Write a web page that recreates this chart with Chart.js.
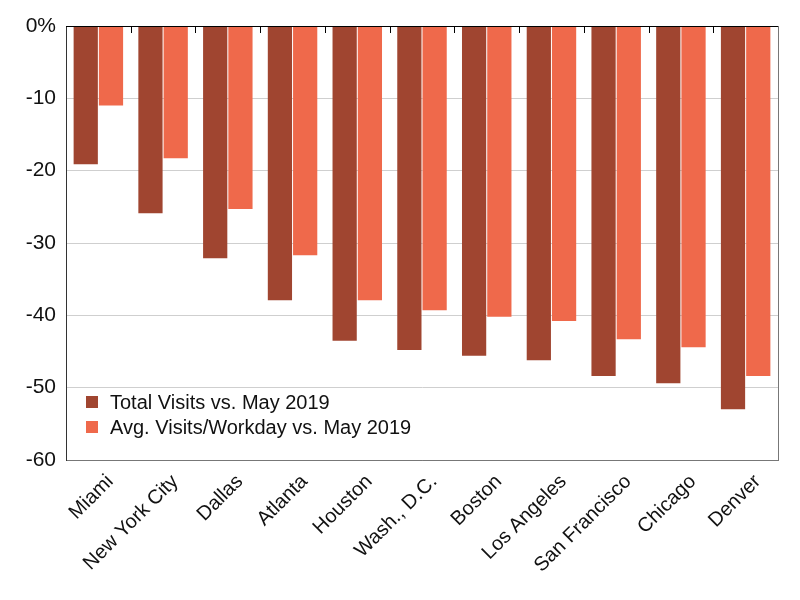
<!DOCTYPE html>
<html>
<head>
<meta charset="utf-8">
<script src="https://cdn.jsdelivr.net/npm/chart.js@4.4.1/dist/chart.umd.min.js"></script>
<style>
  html, body { margin: 0; padding: 0; background: #fff; }
  #wrap { width: 800px; height: 600px; }
</style>
</head>
<body>
<div id="wrap"><canvas id="myChart"></canvas></div>
<script>
const cities = ["Miami", "New York City", "Dallas", "Atlanta", "Houston", "Wash., D.C.", "Boston", "Los Angeles", "San Francisco", "Chicago", "Denver"];
const totalVisits = [-19.1, -25.9, -32.1, -37.9, -43.5, -44.8, -45.6, -46.2, -48.4, -49.4, -53.0];
const avgWorkday = [-11.0, -18.3, -25.3, -31.7, -37.9, -39.3, -40.2, -40.8, -43.3, -44.4, -48.4];
const yTicks = [0, -10, -20, -30, -40, -50, -60];

const FONT = "'Liberation Sans', Arial, Helvetica, sans-serif";

// legend sits inside the plot, lower left; also the frame + small top ticks
const extras = {
    id: 'extras',
    afterDatasetsDraw(chart) {
        const c = chart.ctx;
        const a = chart.chartArea;
        const x = chart.scales.x;
        c.save();
        // right frame line
        c.strokeStyle = '#777';
        c.lineWidth = 1;
        c.beginPath();
        c.moveTo(a.right + 0.5, a.top);
        c.lineTo(a.right + 0.5, a.bottom);
        c.stroke();
        // zero line on top
        c.strokeStyle = '#000';
        c.beginPath();
        c.moveTo(a.left, a.top + 0.5);
        c.lineTo(a.right, a.top + 0.5);
        c.stroke();
        // little tick marks between categories
        for (let i = 0; i < cities.length - 1; i++) {
            const px = Math.round((x.getPixelForTick(i) + x.getPixelForTick(i + 1)) / 2) + 0.5;
            c.beginPath();
            c.moveTo(px, a.top);
            c.lineTo(px, a.top + 7);
            c.stroke();
        }
        // legend
        c.font = '20px ' + FONT;
        c.textBaseline = 'middle';
        chart.data.datasets.forEach((ds, i) => {
            const y = 402 + i * 25;
            c.fillStyle = ds.backgroundColor;
            c.fillRect(a.left + 20, y - 6, 12, 12);
            c.fillStyle = '#111';
            c.fillText(ds.label, a.left + 44, y + 1);
        });
        c.restore();
    }
};

const ctx = document.getElementById('myChart');

new Chart(ctx, {
    type: 'bar',
    data: {
        labels: cities,
        datasets: [{
            label: 'Total Visits vs. May 2019',
            data: totalVisits,
            backgroundColor: '#A04530',
            barPercentage: 0.96,
            categoryPercentage: 0.78
        }, {
            label: 'Avg. Visits/Workday vs. May 2019',
            data: avgWorkday,
            backgroundColor: '#EF694B',
            barPercentage: 0.96,
            categoryPercentage: 0.78
        }]
    },
    options: {
        responsive: true,
        maintainAspectRatio: false,
        animation: false,
        layout: { padding: { top: 26, right: 22, bottom: 0, left: 0 } },
        plugins: {
            legend: { display: false },
            tooltip: { enabled: false }
        },
        scales: {
            x: {
                afterFit(axis) { axis.height = 140; },
                grid: { display: false },
                border: { color: '#777', width: 1 },
                ticks: {
                    color: '#111',
                    font: { family: FONT, size: 20 },
                    minRotation: 45,
                    maxRotation: 45,
                    autoSkip: false,
                    padding: 2,
                    labelOffset: 12
                }
            },
            y: {
                min: -60,
                max: 0,
                afterFit(axis) { axis.width = 66; },
                afterBuildTicks(axis) {
                    axis.ticks = yTicks.map(v => ({ value: v }));
                },
                grid: {
                    color: (g) => g.tick && g.tick.value === -60 ? '#777' : '#cfcfcf',
                    drawTicks: false
                },
                border: { color: '#333', width: 1 },
                ticks: {
                    color: '#111',
                    font: { family: FONT, size: 21 },
                    padding: 10,
                    callback: (v) => v === 0 ? '0%' : v
                }
            }
        }
    },
    plugins: [extras]
});
</script>
</body>
</html>
